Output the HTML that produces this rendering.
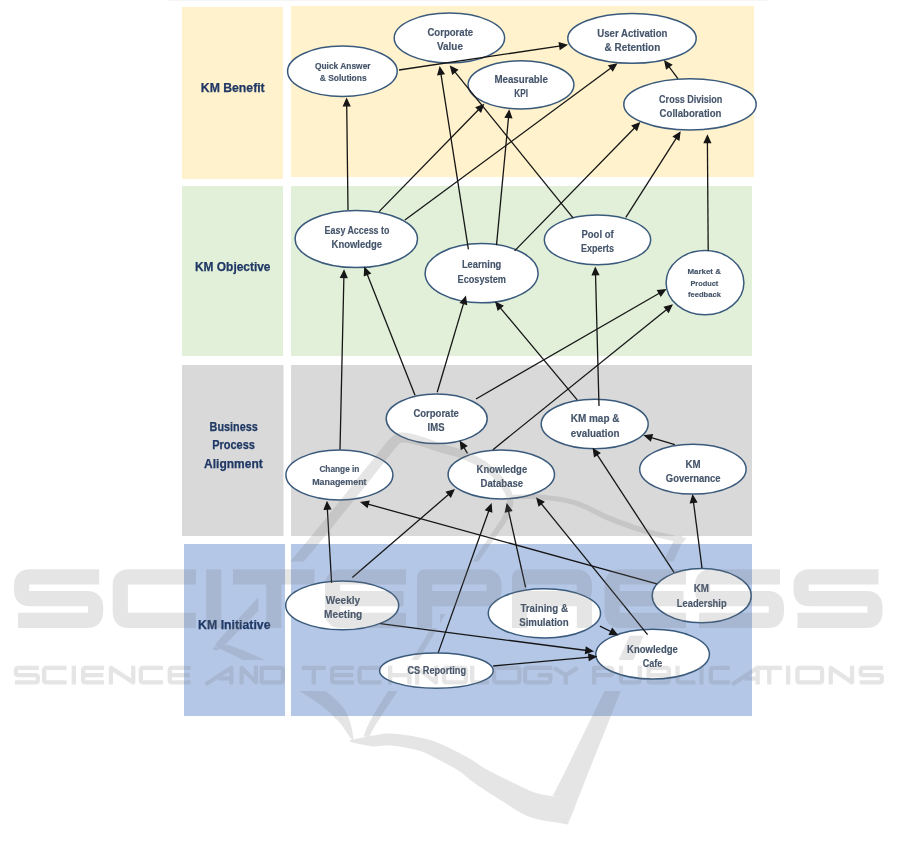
<!DOCTYPE html><html><head><meta charset="utf-8"><style>html,body{margin:0;padding:0;background:#fff;}svg{display:block;}text{font-family:"Liberation Sans",sans-serif;}svg{will-change:transform;}</style></head><body>
<svg width="901" height="859" viewBox="0 0 901 859">
<rect x="167" y="0" width="602" height="1" fill="#f5f5f5"/>
<rect x="182" y="7" width="101.0" height="172.0" fill="#FFF2CC"/>
<rect x="291" y="6" width="463.0" height="171.0" fill="#FFF2CC"/>
<rect x="182" y="186" width="101.0" height="170.0" fill="#E2F0D9"/>
<rect x="291" y="186" width="461.0" height="170.0" fill="#E2F0D9"/>
<rect x="182" y="365" width="101.5" height="171.0" fill="#D9D9D9"/>
<rect x="291" y="365" width="461.0" height="171.0" fill="#D9D9D9"/>
<rect x="184" y="544" width="101.0" height="172.0" fill="#B4C7E7"/>
<rect x="291" y="544" width="461.0" height="172.0" fill="#B4C7E7"/>
<text x="200.8" y="92" font-size="12.5" font-weight="bold" fill="#1F3864" stroke="#1F3864" stroke-width="0.25" textLength="63.9" lengthAdjust="spacingAndGlyphs">KM Benefit</text>
<text x="195" y="270.9" font-size="12.5" font-weight="bold" fill="#1F3864" stroke="#1F3864" stroke-width="0.25" textLength="75.5" lengthAdjust="spacingAndGlyphs">KM Objective</text>
<text x="209.6" y="431.1" font-size="12.5" font-weight="bold" fill="#1F3864" stroke="#1F3864" stroke-width="0.25" textLength="48.1" lengthAdjust="spacingAndGlyphs">Business</text>
<text x="212.2" y="449.4" font-size="12.5" font-weight="bold" fill="#1F3864" stroke="#1F3864" stroke-width="0.25" textLength="42.7" lengthAdjust="spacingAndGlyphs">Process</text>
<text x="204.1" y="467.7" font-size="12.5" font-weight="bold" fill="#1F3864" stroke="#1F3864" stroke-width="0.25" textLength="58.6" lengthAdjust="spacingAndGlyphs">Alignment</text>
<text x="198.1" y="629.2" font-size="12.5" font-weight="bold" fill="#1F3864" stroke="#1F3864" stroke-width="0.25" textLength="72.4" lengthAdjust="spacingAndGlyphs">KM Initiative</text>
<ellipse cx="342.4" cy="71.3" rx="54.8" ry="25.2" fill="#fff" stroke="#3A5A7C" stroke-width="1.5"/>
<ellipse cx="449.4" cy="38" rx="55.2" ry="24.9" fill="#fff" stroke="#3A5A7C" stroke-width="1.5"/>
<ellipse cx="632" cy="38.4" rx="64.2" ry="24.9" fill="#fff" stroke="#3A5A7C" stroke-width="1.5"/>
<ellipse cx="521" cy="84.8" rx="52.9" ry="24.1" fill="#fff" stroke="#3A5A7C" stroke-width="1.5"/>
<ellipse cx="690" cy="104.4" rx="66.2" ry="25.6" fill="#fff" stroke="#3A5A7C" stroke-width="1.5"/>
<ellipse cx="356.3" cy="239" rx="61.2" ry="28.6" fill="#fff" stroke="#3A5A7C" stroke-width="1.5"/>
<ellipse cx="481.6" cy="273.2" rx="56.5" ry="29.6" fill="#fff" stroke="#3A5A7C" stroke-width="1.5"/>
<ellipse cx="597.5" cy="239.9" rx="53.2" ry="24.8" fill="#fff" stroke="#3A5A7C" stroke-width="1.5"/>
<ellipse cx="705" cy="282.7" rx="38.9" ry="32.1" fill="#fff" stroke="#3A5A7C" stroke-width="1.5"/>
<ellipse cx="436.7" cy="418.8" rx="50.5" ry="24.8" fill="#fff" stroke="#3A5A7C" stroke-width="1.5"/>
<ellipse cx="594.7" cy="424" rx="53.5" ry="24.8" fill="#fff" stroke="#3A5A7C" stroke-width="1.5"/>
<ellipse cx="339.4" cy="475" rx="53.5" ry="24.9" fill="#fff" stroke="#3A5A7C" stroke-width="1.5"/>
<ellipse cx="501.3" cy="474.5" rx="53.2" ry="24.4" fill="#fff" stroke="#3A5A7C" stroke-width="1.5"/>
<ellipse cx="692.9" cy="469.2" rx="53.2" ry="24.9" fill="#fff" stroke="#3A5A7C" stroke-width="1.5"/>
<ellipse cx="342.2" cy="605.4" rx="56.5" ry="24.4" fill="#fff" stroke="#3A5A7C" stroke-width="1.5"/>
<ellipse cx="544.4" cy="613.3" rx="56.1" ry="24.6" fill="#fff" stroke="#3A5A7C" stroke-width="1.5"/>
<ellipse cx="701.7" cy="595.7" rx="49.5" ry="27.1" fill="#fff" stroke="#3A5A7C" stroke-width="1.5"/>
<ellipse cx="652.6" cy="654.2" rx="56.8" ry="24.9" fill="#fff" stroke="#3A5A7C" stroke-width="1.5"/>
<ellipse cx="436.4" cy="670.7" rx="56.8" ry="17.6" fill="#fff" stroke="#3A5A7C" stroke-width="1.5"/>
<text x="314.9" y="68.6" font-size="8.5" font-weight="bold" fill="#44546A" stroke="#44546A" stroke-width="0.15" textLength="55.7" lengthAdjust="spacingAndGlyphs">Quick Answer</text>
<text x="319.7" y="81.3" font-size="8.5" font-weight="bold" fill="#44546A" stroke="#44546A" stroke-width="0.15" textLength="46.9" lengthAdjust="spacingAndGlyphs">&amp; Solutions</text>
<text x="427.4" y="36.3" font-size="10" font-weight="bold" fill="#44546A" stroke="#44546A" stroke-width="0.15" textLength="45.8" lengthAdjust="spacingAndGlyphs">Corporate</text>
<text x="437" y="50.3" font-size="10" font-weight="bold" fill="#44546A" stroke="#44546A" stroke-width="0.15" textLength="25.9" lengthAdjust="spacingAndGlyphs">Value</text>
<text x="597.3" y="36.9" font-size="10" font-weight="bold" fill="#44546A" stroke="#44546A" stroke-width="0.15" textLength="70.2" lengthAdjust="spacingAndGlyphs">User Activation</text>
<text x="604.6" y="51.3" font-size="10" font-weight="bold" fill="#44546A" stroke="#44546A" stroke-width="0.15" textLength="55.6" lengthAdjust="spacingAndGlyphs">&amp; Retention</text>
<text x="494.4" y="82.7" font-size="10" font-weight="bold" fill="#44546A" stroke="#44546A" stroke-width="0.15" textLength="53.5" lengthAdjust="spacingAndGlyphs">Measurable</text>
<text x="514.3" y="97.4" font-size="10" font-weight="bold" fill="#44546A" stroke="#44546A" stroke-width="0.15" textLength="13.7" lengthAdjust="spacingAndGlyphs">KPI</text>
<text x="659.1" y="102.8" font-size="10" font-weight="bold" fill="#44546A" stroke="#44546A" stroke-width="0.15" textLength="63.3" lengthAdjust="spacingAndGlyphs">Cross Division</text>
<text x="659.6" y="117.4" font-size="10" font-weight="bold" fill="#44546A" stroke="#44546A" stroke-width="0.15" textLength="61.9" lengthAdjust="spacingAndGlyphs">Collaboration</text>
<text x="324.6" y="234.2" font-size="10" font-weight="bold" fill="#44546A" stroke="#44546A" stroke-width="0.15" textLength="64.8" lengthAdjust="spacingAndGlyphs">Easy Access to</text>
<text x="331.6" y="248.2" font-size="10" font-weight="bold" fill="#44546A" stroke="#44546A" stroke-width="0.15" textLength="50.5" lengthAdjust="spacingAndGlyphs">Knowledge</text>
<text x="461.9" y="267.9" font-size="10" font-weight="bold" fill="#44546A" stroke="#44546A" stroke-width="0.15" textLength="39.4" lengthAdjust="spacingAndGlyphs">Learning</text>
<text x="457.6" y="282.6" font-size="10" font-weight="bold" fill="#44546A" stroke="#44546A" stroke-width="0.15" textLength="48.3" lengthAdjust="spacingAndGlyphs">Ecosystem</text>
<text x="581.5" y="237.9" font-size="10" font-weight="bold" fill="#44546A" stroke="#44546A" stroke-width="0.15" textLength="32.1" lengthAdjust="spacingAndGlyphs">Pool of</text>
<text x="580.9" y="252.3" font-size="10" font-weight="bold" fill="#44546A" stroke="#44546A" stroke-width="0.15" textLength="33.1" lengthAdjust="spacingAndGlyphs">Experts</text>
<text x="687.4" y="274.3" font-size="8" font-weight="bold" fill="#44546A" stroke="#44546A" stroke-width="0.15" textLength="33.5" lengthAdjust="spacingAndGlyphs">Market &amp;</text>
<text x="690.4" y="285.5" font-size="8" font-weight="bold" fill="#44546A" stroke="#44546A" stroke-width="0.15" textLength="27.8" lengthAdjust="spacingAndGlyphs">Product</text>
<text x="688" y="296.9" font-size="8" font-weight="bold" fill="#44546A" stroke="#44546A" stroke-width="0.15" textLength="32.9" lengthAdjust="spacingAndGlyphs">feedback</text>
<text x="413.4" y="416.6" font-size="10" font-weight="bold" fill="#44546A" stroke="#44546A" stroke-width="0.15" textLength="45.5" lengthAdjust="spacingAndGlyphs">Corporate</text>
<text x="427.6" y="430.6" font-size="10" font-weight="bold" fill="#44546A" stroke="#44546A" stroke-width="0.15" textLength="16.9" lengthAdjust="spacingAndGlyphs">IMS</text>
<text x="570.7" y="422.4" font-size="10" font-weight="bold" fill="#44546A" stroke="#44546A" stroke-width="0.15" textLength="48.8" lengthAdjust="spacingAndGlyphs">KM map &amp;</text>
<text x="570.7" y="436.8" font-size="10" font-weight="bold" fill="#44546A" stroke="#44546A" stroke-width="0.15" textLength="48.8" lengthAdjust="spacingAndGlyphs">evaluation</text>
<text x="319.4" y="472" font-size="8.5" font-weight="bold" fill="#44546A" stroke="#44546A" stroke-width="0.15" textLength="40.0" lengthAdjust="spacingAndGlyphs">Change in</text>
<text x="312.2" y="485" font-size="8.5" font-weight="bold" fill="#44546A" stroke="#44546A" stroke-width="0.15" textLength="54.4" lengthAdjust="spacingAndGlyphs">Management</text>
<text x="476.6" y="473" font-size="10" font-weight="bold" fill="#44546A" stroke="#44546A" stroke-width="0.15" textLength="50.6" lengthAdjust="spacingAndGlyphs">Knowledge</text>
<text x="480.6" y="487.4" font-size="10" font-weight="bold" fill="#44546A" stroke="#44546A" stroke-width="0.15" textLength="42.6" lengthAdjust="spacingAndGlyphs">Database</text>
<text x="685.6" y="467.7" font-size="10" font-weight="bold" fill="#44546A" stroke="#44546A" stroke-width="0.15" textLength="15.1" lengthAdjust="spacingAndGlyphs">KM</text>
<text x="665.8" y="482.1" font-size="10" font-weight="bold" fill="#44546A" stroke="#44546A" stroke-width="0.15" textLength="54.8" lengthAdjust="spacingAndGlyphs">Governance</text>
<text x="325.8" y="603.9" font-size="10" font-weight="bold" fill="#44546A" stroke="#44546A" stroke-width="0.15" textLength="34.3" lengthAdjust="spacingAndGlyphs">Weekly</text>
<text x="324.1" y="617.6" font-size="10" font-weight="bold" fill="#44546A" stroke="#44546A" stroke-width="0.15" textLength="38.2" lengthAdjust="spacingAndGlyphs">Meeting</text>
<text x="520.4" y="611.7" font-size="10" font-weight="bold" fill="#44546A" stroke="#44546A" stroke-width="0.15" textLength="47.6" lengthAdjust="spacingAndGlyphs">Training &amp;</text>
<text x="519.2" y="625.7" font-size="10" font-weight="bold" fill="#44546A" stroke="#44546A" stroke-width="0.15" textLength="49.5" lengthAdjust="spacingAndGlyphs">Simulation</text>
<text x="693.7" y="592" font-size="10" font-weight="bold" fill="#44546A" stroke="#44546A" stroke-width="0.15" textLength="15.3" lengthAdjust="spacingAndGlyphs">KM</text>
<text x="676.8" y="606.5" font-size="10" font-weight="bold" fill="#44546A" stroke="#44546A" stroke-width="0.15" textLength="49.8" lengthAdjust="spacingAndGlyphs">Leadership</text>
<text x="627" y="652.6" font-size="10" font-weight="bold" fill="#44546A" stroke="#44546A" stroke-width="0.15" textLength="50.9" lengthAdjust="spacingAndGlyphs">Knowledge</text>
<text x="642.8" y="666.6" font-size="10" font-weight="bold" fill="#44546A" stroke="#44546A" stroke-width="0.15" textLength="19.6" lengthAdjust="spacingAndGlyphs">Cafe</text>
<text x="407.5" y="673.9" font-size="10" font-weight="bold" fill="#44546A" stroke="#44546A" stroke-width="0.15" textLength="58.5" lengthAdjust="spacingAndGlyphs">CS Reporting</text>
<g stroke="#161616" stroke-width="1.3" fill="#161616">
<line x1="399.0" y1="70.0" x2="560.8" y2="45.9"/><polygon points="566.5,45.0 560.2,49.1 559.3,42.9"/>
<line x1="348.0" y1="210.0" x2="346.7" y2="104.8"/><polygon points="346.6,99.0 349.8,105.8 343.6,105.8"/>
<line x1="379.1" y1="211.6" x2="479.2" y2="109.0"/><polygon points="483.3,104.9 480.8,111.9 476.3,107.6"/>
<line x1="404.9" y1="220.0" x2="611.6" y2="67.5"/><polygon points="616.3,64.1 612.7,70.6 609.0,65.6"/>
<line x1="468.4" y1="249.4" x2="440.8" y2="73.2"/><polygon points="439.9,67.5 444.0,73.7 437.9,74.7"/>
<line x1="496.5" y1="245.1" x2="508.6" y2="116.5"/><polygon points="509.1,110.7 511.6,117.8 505.4,117.2"/>
<line x1="514.6" y1="250.9" x2="635.2" y2="127.3"/><polygon points="639.3,123.1 636.8,130.1 632.3,125.8"/>
<line x1="573.2" y1="218.2" x2="454.3" y2="71.1"/><polygon points="450.7,66.6 457.4,69.9 452.6,73.8"/>
<line x1="625.8" y1="217.4" x2="676.8" y2="137.4"/><polygon points="679.9,132.5 678.9,139.9 673.6,136.6"/>
<line x1="677.9" y1="78.6" x2="668.4" y2="65.9"/><polygon points="664.9,61.3 671.5,64.9 666.5,68.6"/>
<line x1="708.2" y1="250.7" x2="707.4" y2="141.6"/><polygon points="707.4,135.8 710.5,142.6 704.3,142.6"/>
<line x1="340.0" y1="449.4" x2="343.9" y2="276.5"/><polygon points="344.0,270.7 346.9,277.6 340.7,277.4"/>
<line x1="415.0" y1="395.3" x2="366.9" y2="273.4"/><polygon points="364.8,268.0 370.2,273.2 364.4,275.5"/>
<line x1="437.2" y1="392.3" x2="463.8" y2="302.6"/><polygon points="465.5,297.0 466.5,304.4 460.6,302.6"/>
<line x1="476.0" y1="399.0" x2="660.1" y2="292.7"/><polygon points="665.1,289.8 660.8,295.9 657.7,290.5"/>
<line x1="467.5" y1="453.3" x2="463.4" y2="446.6"/><polygon points="460.4,441.7 466.6,445.9 461.3,449.1"/>
<line x1="492.9" y1="449.7" x2="667.3" y2="308.9"/><polygon points="671.8,305.3 668.5,312.0 664.6,307.2"/>
<line x1="577.2" y1="399.8" x2="499.7" y2="307.1"/><polygon points="496.0,302.6 502.7,305.8 498.0,309.8"/>
<line x1="599.0" y1="406.0" x2="595.5" y2="273.8"/><polygon points="595.3,268.0 598.6,274.7 592.4,274.9"/>
<line x1="674.8" y1="444.7" x2="650.5" y2="437.4"/><polygon points="644.9,435.7 652.3,434.7 650.5,440.6"/>
<line x1="331.6" y1="582.9" x2="327.3" y2="508.2"/><polygon points="327.0,502.4 330.5,509.0 324.3,509.4"/>
<line x1="352.3" y1="577.5" x2="449.4" y2="493.8"/><polygon points="453.8,490.0 450.7,496.8 446.6,492.1"/>
<line x1="380.3" y1="623.7" x2="586.8" y2="650.5"/><polygon points="592.6,651.2 585.5,653.4 586.3,647.3"/>
<line x1="656.9" y1="583.9" x2="367.1" y2="503.9"/><polygon points="361.5,502.4 368.9,501.2 367.2,507.2"/>
<line x1="674.0" y1="572.4" x2="596.6" y2="453.9"/><polygon points="593.4,449.0 599.7,453.0 594.5,456.4"/>
<line x1="702.0" y1="568.0" x2="693.4" y2="501.4"/><polygon points="692.7,495.6 696.6,501.9 690.5,502.7"/>
<line x1="438.3" y1="652.4" x2="489.1" y2="510.0"/><polygon points="491.1,504.5 491.7,511.9 485.9,509.9"/>
<line x1="493.2" y1="666.0" x2="590.0" y2="657.1"/><polygon points="595.8,656.6 589.3,660.3 588.7,654.1"/>
<line x1="525.6" y1="587.4" x2="508.3" y2="510.2"/><polygon points="507.0,504.5 511.5,510.5 505.5,511.8"/>
<line x1="599.9" y1="626.2" x2="611.8" y2="632.0"/><polygon points="617.0,634.6 609.5,634.4 612.3,628.8"/>
<line x1="647.6" y1="634.6" x2="540.7" y2="503.0"/><polygon points="537.0,498.5 543.7,501.8 538.9,505.7"/>
</g>
<defs><mask id="wmk" maskUnits="userSpaceOnUse" x="0" y="0" width="901" height="859">
<rect x="0" y="0" width="901" height="859" fill="#fff"/>
<g fill="none" stroke="#000" stroke-linejoin="round">
<path d="M99.19,576.90 L29.96,576.90 Q21.60,576.90 21.60,585.26 L21.60,590.29 Q21.60,598.65 29.96,598.65 L87.24,598.65 Q95.60,598.65 95.60,607.01 L95.60,612.04 Q95.60,620.40 87.24,620.40 L18.01,620.40" stroke-width="30.799999999999997"/>
<path d="M195.90,576.90 L128.66,576.90 Q120.30,576.90 120.30,585.26 L120.30,612.04 Q120.30,620.40 128.66,620.40 L195.90,620.40" stroke-width="30.799999999999997"/>
<path d="M213.75,569.30 L213.75,628.00" stroke-width="30.799999999999997"/>
<path d="M233.00,576.90 L314.50,576.90" stroke-width="30.799999999999997"/>
<path d="M273.75,576.90 L273.75,628.00" stroke-width="30.799999999999997"/>
<path d="M406.00,576.90 L340.96,576.90 Q332.60,576.90 332.60,585.26 L332.60,612.04 Q332.60,620.40 340.96,620.40 L406.00,620.40" stroke-width="30.799999999999997"/>
<path d="M332.60,598.65 L403.57,598.65" stroke-width="30.799999999999997"/>
<path d="M424.60,628.00 L424.60,576.90 L485.64,576.90 Q494.00,576.90 494.00,585.26 L494.00,590.29 Q494.00,598.65 485.64,598.65 L424.60,598.65" stroke-width="30.799999999999997"/>
<path d="M519.60,628.00 L519.60,576.90 L576.04,576.90 Q584.40,576.90 584.40,585.26 L584.40,590.29 Q584.40,598.65 576.04,598.65 L519.60,598.65" stroke-width="30.799999999999997"/>
<path d="M584.40,598.65 L584.40,628.00" stroke-width="30.799999999999997"/>
<path d="M686.00,576.90 L620.46,576.90 Q612.10,576.90 612.10,585.26 L612.10,612.04 Q612.10,620.40 620.46,620.40 L686.00,620.40" stroke-width="30.799999999999997"/>
<path d="M612.10,598.65 L683.55,598.65" stroke-width="30.799999999999997"/>
<path d="M780.00,576.90 L710.96,576.90 Q702.60,576.90 702.60,585.26 L702.60,590.29 Q702.60,598.65 710.96,598.65 L768.04,598.65 Q776.40,598.65 776.40,607.01 L776.40,612.04 Q776.40,620.40 768.04,620.40 L699.00,620.40" stroke-width="30.799999999999997"/>
<path d="M878.59,576.90 L809.46,576.90 Q801.10,576.90 801.10,585.26 L801.10,590.29 Q801.10,598.65 809.46,598.65 L866.64,598.65 Q875.00,598.65 875.00,607.01 L875.00,612.04 Q875.00,620.40 866.64,620.40 L797.51,620.40" stroke-width="30.799999999999997"/>
</g>
<rect x="0" y="660" width="901" height="31" fill="#000"/>
</mask></defs>
<g opacity="0.19">
<g mask="url(#wmk)" fill="#787878">
<path d="M217.2,646.5 L215.3,647.6 L216.1,645.6 L215.6,645.9 L215.0,646.2 L214.3,646.7 L212.9,649.3 L216.5,650.8 L218.3,649.8 L219.6,649.0 L221.4,647.7 L223.8,645.6 L226.9,642.8 L230.7,639.0 L235.1,634.5 L240.2,629.4 L245.8,623.7 L251.9,617.5 L258.4,610.9 L265.1,603.9 L272.1,596.5 L279.3,588.9 L286.6,581.0 L293.8,573.0 L301.0,564.9 L308.5,556.1 L316.7,546.2 L325.5,535.4 L334.6,524.2 L343.9,512.6 L353.2,501.1 L362.1,489.9 L370.7,479.2 L378.5,469.3 L385.5,460.5 L391.4,453.1 L395.8,447.7 L396.0,447.5 L396.7,446.7 L397.3,446.1 L397.8,445.4 L398.3,444.8 L398.9,444.2 L399.4,443.7 L399.9,443.3 L400.4,443.0 L400.8,442.7 L401.2,442.6 L401.6,442.5 L402.3,442.4 L403.3,442.4 L404.5,442.5 L405.8,442.7 L407.2,442.9 L408.7,443.2 L410.3,443.5 L412.0,443.9 L413.7,444.3 L415.4,444.7 L417.1,445.2 L418.8,445.6 L420.4,446.0 L422.0,446.5 L423.6,447.0 L425.3,447.5 L427.0,448.1 L428.7,448.6 L430.5,449.2 L432.2,449.9 L434.1,450.5 L435.9,451.1 L437.8,451.7 L439.6,452.3 L441.6,452.9 L443.5,453.4 L445.5,453.9 L447.4,454.4 L449.4,455.0 L451.3,455.5 L453.3,456.0 L455.2,456.5 L457.0,457.1 L458.9,457.7 L460.7,458.3 L462.4,458.9 L464.2,459.7 L466.0,460.4 L467.8,461.2 L469.6,462.0 L471.4,462.9 L473.1,463.7 L474.8,464.6 L476.5,465.5 L478.1,466.4 L479.7,467.4 L481.3,468.3 L482.7,469.3 L484.1,470.2 L485.5,471.2 L486.9,472.2 L488.2,473.2 L489.4,474.3 L490.6,475.3 L491.8,476.4 L493.0,477.5 L494.1,478.6 L495.2,479.8 L496.2,480.9 L497.3,482.2 L498.3,483.5 L499.3,484.8 L500.4,486.2 L501.4,487.6 L502.4,489.1 L503.3,490.5 L504.1,491.9 L504.9,493.3 L505.5,494.7 L506.1,496.0 L506.5,497.3 L506.8,498.5 L506.9,499.7 L507.0,501.0 L506.9,502.3 L506.8,503.6 L506.5,505.0 L506.2,506.4 L505.8,507.8 L505.3,509.2 L504.8,510.6 L504.3,512.1 L503.8,513.5 L503.2,514.8 L502.7,516.1 L502.2,517.2 L501.7,518.2 L501.1,519.2 L500.5,520.2 L499.9,521.2 L499.1,522.3 L498.3,523.4 L497.4,524.7 L496.5,526.1 L495.4,527.7 L494.2,529.5 L493.0,531.3 L491.7,533.1 L490.4,535.1 L489.0,537.0 L487.6,539.1 L486.0,541.4 L484.4,543.7 L482.7,546.3 L480.8,549.0 L478.8,552.0 L476.7,555.2 L474.5,558.6 L472.0,562.5 L469.4,566.7 L466.5,571.3 L463.4,576.1 L460.3,581.1 L457.1,586.3 L453.8,591.5 L450.6,596.7 L447.5,601.8 L444.4,606.7 L441.6,611.3 L438.9,615.7 L436.3,619.8 L433.9,623.8 L431.5,627.7 L429.2,631.5 L427.0,635.1 L424.8,638.7 L422.7,642.2 L420.6,645.6 L418.5,648.9 L416.5,652.2 L414.5,655.3 L412.5,658.4 L410.5,661.3 L408.5,664.1 L406.5,666.7 L404.6,669.3 L402.6,671.8 L400.7,674.2 L398.9,676.6 L397.0,679.0 L395.2,681.4 L393.3,683.8 L391.5,686.3 L389.7,688.8 L388.0,691.4 L386.3,694.1 L384.5,696.8 L382.8,699.5 L381.1,702.2 L379.5,704.9 L377.8,707.6 L376.3,710.1 L374.8,712.6 L373.4,715.0 L372.1,717.2 L371.0,719.2 L369.9,721.2 L369.0,723.1 L368.2,724.9 L367.4,726.5 L366.7,728.1 L366.1,729.6 L365.6,731.0 L365.1,732.2 L364.7,733.3 L364.3,734.3 L364.0,735.2 L363.7,735.9 L368.3,738.1 L368.7,737.4 L369.2,736.5 L369.7,735.6 L370.2,734.5 L370.9,733.4 L371.5,732.2 L372.3,730.8 L373.1,729.4 L373.9,727.9 L374.9,726.2 L375.9,724.6 L377.0,722.8 L378.2,720.8 L379.6,718.7 L381.0,716.4 L382.5,714.0 L384.1,711.5 L385.8,708.9 L387.5,706.3 L389.3,703.7 L391.0,701.0 L392.8,698.4 L394.6,695.8 L396.3,693.2 L397.9,690.7 L399.6,688.3 L401.2,685.8 L402.9,683.4 L404.6,680.9 L406.4,678.4 L408.2,675.8 L410.0,673.2 L411.8,670.5 L413.7,667.7 L415.6,664.7 L417.5,661.6 L419.5,658.5 L421.5,655.2 L423.5,651.9 L425.4,648.5 L427.5,645.1 L429.5,641.5 L431.6,637.9 L433.8,634.2 L436.0,630.4 L438.3,626.4 L440.7,622.4 L443.1,618.3 L445.8,614.0 L448.7,609.3 L451.7,604.4 L454.9,599.3 L458.1,594.1 L461.3,588.9 L464.5,583.8 L467.7,578.8 L470.7,573.9 L473.6,569.4 L476.3,565.2 L478.7,561.4 L480.9,557.9 L483.1,554.8 L485.0,551.9 L486.9,549.2 L488.7,546.7 L490.3,544.4 L491.9,542.2 L493.4,540.1 L494.8,538.2 L496.2,536.2 L497.5,534.4 L498.8,532.5 L500.0,530.8 L501.0,529.3 L502.0,528.0 L502.9,526.7 L503.8,525.6 L504.6,524.4 L505.4,523.3 L506.1,522.2 L506.8,521.1 L507.5,519.9 L508.1,518.5 L508.8,517.2 L509.4,515.7 L510.0,514.3 L510.6,512.8 L511.2,511.2 L511.7,509.6 L512.2,508.0 L512.7,506.3 L513.0,504.6 L513.3,502.9 L513.4,501.1 L513.4,499.3 L513.2,497.5 L512.8,495.7 L512.3,493.9 L511.7,492.1 L510.9,490.4 L510.0,488.7 L509.1,487.0 L508.1,485.4 L507.0,483.8 L506.0,482.2 L504.9,480.7 L503.8,479.2 L502.7,477.8 L501.7,476.4 L500.6,475.1 L499.4,473.7 L498.2,472.4 L497.0,471.1 L495.7,469.8 L494.4,468.6 L493.1,467.4 L491.7,466.2 L490.3,465.0 L488.8,463.8 L487.3,462.7 L485.7,461.6 L484.0,460.5 L482.3,459.4 L480.5,458.4 L478.7,457.4 L476.9,456.4 L475.0,455.4 L473.2,454.5 L471.3,453.6 L469.4,452.7 L467.5,451.9 L465.6,451.1 L463.6,450.3 L461.7,449.5 L459.7,448.9 L457.7,448.2 L455.7,447.6 L453.7,447.0 L451.7,446.5 L449.8,445.9 L447.8,445.4 L446.0,444.8 L444.1,444.3 L442.4,443.7 L440.6,443.1 L438.8,442.5 L437.1,441.9 L435.3,441.2 L433.6,440.6 L431.8,439.9 L430.0,439.3 L428.3,438.7 L426.5,438.0 L424.7,437.5 L423.0,436.9 L421.2,436.4 L419.5,435.9 L417.8,435.5 L416.1,435.0 L414.3,434.5 L412.5,434.1 L410.8,433.6 L409.0,433.3 L407.3,432.9 L405.5,432.7 L403.8,432.5 L402.1,432.4 L400.4,432.5 L398.6,432.8 L396.8,433.4 L395.3,434.2 L394.0,435.0 L392.8,435.9 L391.8,436.8 L390.9,437.7 L390.1,438.5 L389.5,439.1 L389.0,439.6 L388.8,439.8 L388.2,440.3 L383.2,446.5 L377.3,454.0 L370.3,462.8 L362.4,472.6 L353.9,483.3 L345.0,494.6 L335.7,506.1 L326.5,517.6 L317.4,528.8 L308.6,539.5 L300.4,549.3 L293.0,558.1 L286.1,566.2 L279.0,574.3 L272.0,582.2 L265.0,590.0 L258.2,597.4 L251.6,604.5 L245.4,611.3 L239.4,617.6 L234.0,623.4 L229.1,628.6 L224.7,633.3 L221.1,637.2 L218.4,640.5 L216.5,642.9 L215.3,644.5 L214.7,645.4 L215.6,645.1 L219.0,646.6 L217.8,648.5 L217.8,648.0 L217.9,647.4 L217.9,646.7 L218.9,644.2 L216.8,645.5 Z"/>
<path d="M215.9,645.5 L216.3,645.9 L216.7,646.2 L217.3,646.6 L217.9,647.0 L218.6,647.5 L219.3,647.9 L220.1,648.4 L220.9,648.9 L221.8,649.4 L222.7,650.0 L223.7,650.6 L224.8,651.3 L226.0,651.8 L227.2,652.4 L228.6,653.0 L230.0,653.6 L231.4,654.3 L232.9,655.0 L234.5,655.8 L236.1,656.5 L237.8,657.3 L239.5,658.2 L241.2,659.1 L243.1,660.1 L244.9,661.1 L246.7,662.1 L248.6,663.3 L250.6,664.4 L252.6,665.6 L254.7,666.8 L256.8,668.1 L259.1,669.5 L261.5,670.8 L263.9,672.3 L266.5,673.8 L269.3,675.3 L272.2,677.0 L275.5,678.7 L278.8,680.5 L282.3,682.3 L285.9,684.1 L289.5,686.0 L293.1,687.9 L296.7,689.8 L300.1,691.7 L303.3,693.6 L306.2,695.5 L309.0,697.3 L311.6,699.0 L314.3,700.7 L316.8,702.4 L319.2,704.1 L321.5,705.8 L323.7,707.5 L325.8,709.3 L327.9,711.0 L329.8,712.8 L331.6,714.5 L333.3,716.3 L334.9,718.1 L336.7,719.6 L338.4,721.3 L340.2,723.3 L341.8,725.4 L343.4,727.6 L345.0,729.8 L346.4,732.0 L347.8,734.1 L349.1,736.0 L350.4,737.7 L351.5,739.1 L352.5,740.2 L353.5,739.8 L353.3,738.3 L353.1,736.6 L352.8,734.5 L352.5,732.2 L352.0,729.7 L351.4,727.0 L350.7,724.3 L349.9,721.4 L348.9,718.5 L347.8,715.6 L346.5,712.7 L345.1,709.9 L343.2,707.6 L341.3,705.4 L339.3,703.2 L337.3,701.1 L335.1,698.9 L332.8,696.8 L330.4,694.8 L327.9,692.7 L325.3,690.7 L322.7,688.7 L319.9,686.7 L317.0,684.7 L313.8,682.8 L310.4,681.0 L306.8,679.2 L303.0,677.4 L299.3,675.6 L295.5,673.9 L291.7,672.2 L287.9,670.5 L284.3,669.0 L280.9,667.4 L277.7,666.0 L274.7,664.7 L271.9,663.4 L269.3,662.1 L266.7,660.9 L264.2,659.7 L261.9,658.6 L259.6,657.5 L257.4,656.5 L255.2,655.5 L253.1,654.6 L251.0,653.7 L249.0,652.8 L246.9,651.9 L245.0,651.1 L243.1,650.3 L241.2,649.6 L239.4,648.9 L237.6,648.2 L236.0,647.6 L234.3,647.0 L232.8,646.5 L231.3,646.0 L229.9,645.6 L228.5,645.1 L227.2,644.7 L225.9,644.5 L224.7,644.3 L223.5,644.2 L222.3,644.1 L221.3,644.1 L220.3,644.1 L219.4,644.1 L218.6,644.1 L217.9,644.2 L217.2,644.3 L216.7,644.4 L216.1,644.5 Z"/>
<path d="M350.0,741.5 L351.1,741.9 L352.4,742.4 L354.0,742.8 L355.8,743.2 L357.7,743.7 L359.8,744.1 L361.9,744.5 L364.1,744.9 L366.2,745.4 L368.3,745.8 L370.3,746.1 L372.2,746.5 L374.1,746.4 L375.8,746.3 L377.5,746.2 L379.0,746.0 L380.5,745.8 L381.9,745.7 L383.2,745.5 L384.6,745.4 L386.0,745.3 L387.4,745.3 L388.9,745.4 L390.6,745.5 L392.6,745.7 L394.7,745.9 L397.0,746.3 L399.5,746.6 L402.0,747.0 L404.5,747.5 L407.1,748.0 L409.6,748.5 L412.0,749.0 L414.4,749.5 L416.5,750.0 L418.5,750.5 L420.2,751.0 L421.7,751.5 L423.1,752.0 L424.3,752.5 L425.5,753.1 L426.7,753.6 L427.8,754.1 L429.0,754.8 L430.3,755.4 L431.7,756.1 L433.2,756.9 L434.8,757.8 L436.6,758.7 L438.6,759.7 L440.6,760.7 L442.7,761.8 L444.8,762.9 L447.0,764.1 L449.2,765.2 L451.3,766.4 L453.4,767.6 L455.3,768.7 L457.2,769.8 L458.9,770.9 L460.3,771.9 L461.6,772.8 L462.8,773.7 L464.0,774.7 L465.1,775.6 L466.2,776.6 L467.5,777.6 L468.7,778.7 L470.1,779.9 L471.7,781.1 L473.4,782.3 L475.2,783.6 L477.1,784.9 L479.0,786.3 L481.0,787.6 L483.2,789.0 L485.3,790.4 L487.5,791.8 L489.8,793.3 L492.0,794.7 L494.3,796.1 L496.5,797.5 L498.8,798.9 L500.9,800.2 L503.0,801.5 L505.1,802.9 L507.2,804.3 L509.4,805.8 L511.6,807.2 L513.9,808.7 L516.2,810.2 L518.6,811.6 L521.1,813.0 L523.6,814.3 L526.2,815.6 L528.9,816.8 L531.8,817.8 L534.8,818.6 L537.7,819.3 L540.7,820.0 L543.5,820.5 L546.3,821.0 L548.9,821.4 L551.3,821.8 L553.5,822.1 L555.3,822.4 L556.8,822.6 L567.8,824.4 L574.0,809.4 L576.7,802.1 L580.0,793.7 L583.7,784.3 L587.7,774.0 L592.1,763.1 L596.6,751.7 L601.3,740.0 L606.0,728.3 L610.7,716.5 L615.2,705.1 L619.6,694.0 L624.2,682.8 L629.1,670.8 L634.2,658.3 L639.5,645.3 L644.8,632.3 L650.0,619.4 L655.1,606.9 L660.0,595.0 L664.5,583.8 L668.6,573.8 L672.2,565.1 L675.1,557.9 L677.5,552.3 L679.4,548.2 L680.8,545.2 L681.7,543.4 L682.1,542.6 L681.4,543.1 L678.6,543.4 L677.2,541.6 L677.2,541.5 L678.3,543.3 L681.9,543.8 L686.4,538.2 L680.0,536.7 L677.9,536.2 L675.5,535.7 L672.8,535.1 L669.8,534.4 L666.7,533.7 L663.4,533.0 L660.1,532.2 L656.8,531.4 L653.5,530.5 L650.4,529.7 L647.4,528.9 L644.5,528.0 L641.6,527.1 L638.6,526.1 L635.7,525.2 L632.7,524.2 L629.8,523.1 L626.8,522.1 L623.9,521.0 L620.9,519.9 L617.9,518.8 L615.0,517.6 L612.0,516.5 L609.1,515.3 L606.2,514.0 L603.3,512.6 L600.3,511.2 L597.4,509.7 L594.4,508.2 L591.4,506.8 L588.4,505.4 L585.4,504.0 L582.4,502.8 L579.3,501.6 L576.2,500.6 L573.2,499.7 L570.1,498.9 L567.0,498.2 L563.9,497.6 L560.9,497.0 L557.8,496.5 L554.7,496.1 L551.7,495.7 L548.8,495.4 L545.9,495.0 L543.0,494.8 L540.2,494.5 L537.4,494.3 L534.4,494.2 L531.4,494.2 L528.5,494.2 L525.6,494.3 L522.7,494.4 L520.0,494.5 L517.5,494.6 L515.2,494.7 L513.1,494.8 L511.4,494.9 L510.0,495.0 L510.0,499.0 L511.5,499.0 L513.3,499.0 L515.3,499.0 L517.6,498.9 L520.2,498.9 L522.8,498.9 L525.6,498.9 L528.5,498.9 L531.4,499.0 L534.2,499.1 L537.1,499.2 L539.8,499.5 L542.5,499.7 L545.3,500.0 L548.2,500.3 L551.1,500.7 L554.1,501.0 L557.0,501.5 L560.0,502.0 L563.0,502.5 L566.0,503.1 L568.9,503.8 L571.9,504.5 L574.8,505.4 L577.6,506.4 L580.5,507.5 L583.3,508.7 L586.2,510.1 L589.1,511.5 L592.1,512.9 L595.0,514.4 L598.0,515.9 L600.9,517.4 L603.9,518.9 L606.9,520.3 L610.0,521.5 L613.0,522.7 L616.0,523.9 L619.0,525.0 L622.0,526.2 L625.0,527.2 L628.0,528.3 L631.0,529.4 L633.9,530.4 L636.9,531.4 L639.9,532.3 L642.9,533.2 L645.8,534.1 L648.9,535.0 L652.1,535.9 L655.4,536.8 L658.7,537.7 L662.1,538.5 L665.4,539.3 L668.5,540.1 L671.5,540.8 L674.2,541.4 L676.6,542.0 L678.7,542.5 L675.6,541.8 L679.4,537.0 L682.6,537.4 L683.4,538.7 L683.2,537.9 L681.4,535.6 L677.9,536.0 L676.1,537.6 L674.9,539.1 L673.5,541.3 L671.8,544.4 L669.6,548.6 L666.9,554.1 L663.5,561.2 L659.4,569.8 L654.9,579.7 L649.9,590.6 L644.6,602.4 L639.0,614.7 L633.3,627.4 L627.5,640.2 L621.8,652.9 L616.2,665.3 L610.9,677.0 L605.8,688.0 L600.7,698.7 L595.3,709.7 L589.8,721.1 L584.2,732.5 L578.7,743.8 L573.3,754.8 L568.2,765.3 L563.3,775.2 L558.7,784.3 L554.6,792.3 L551.1,799.2 L552.2,795.6 L560.6,797.0 L558.8,796.8 L556.8,796.5 L554.7,796.3 L552.4,796.1 L550.1,795.8 L547.7,795.4 L545.3,795.1 L543.0,794.7 L540.8,794.2 L538.9,793.7 L537.1,793.2 L535.3,792.7 L533.4,792.1 L531.4,791.3 L529.3,790.5 L527.2,789.6 L525.0,788.6 L522.8,787.5 L520.5,786.4 L518.2,785.2 L515.8,784.1 L513.4,782.9 L511.1,781.8 L508.8,780.7 L506.5,779.6 L504.2,778.4 L501.8,777.3 L499.5,776.1 L497.2,774.9 L495.0,773.8 L492.8,772.6 L490.6,771.5 L488.6,770.4 L486.6,769.4 L484.8,768.4 L483.2,767.5 L481.8,766.6 L480.5,765.7 L479.2,764.9 L477.9,764.0 L476.6,763.1 L475.3,762.2 L473.9,761.3 L472.4,760.3 L470.8,759.2 L469.0,758.2 L467.1,757.1 L465.1,756.0 L463.1,754.9 L460.9,753.8 L458.7,752.6 L456.4,751.4 L454.1,750.3 L451.8,749.2 L449.5,748.1 L447.3,747.0 L445.1,746.0 L443.1,745.0 L441.2,744.2 L439.4,743.5 L437.8,742.8 L436.3,742.2 L434.8,741.6 L433.3,741.1 L431.8,740.6 L430.3,740.1 L428.8,739.6 L427.1,739.2 L425.4,738.7 L423.5,738.3 L421.5,737.9 L419.4,737.4 L417.0,736.9 L414.5,736.5 L411.9,736.0 L409.3,735.6 L406.6,735.2 L403.9,734.8 L401.2,734.4 L398.6,734.1 L396.1,733.9 L393.6,733.7 L391.4,733.5 L389.2,733.5 L387.2,733.5 L385.3,733.6 L383.5,733.8 L381.8,734.0 L380.3,734.3 L378.8,734.5 L377.4,734.8 L376.0,735.0 L374.6,735.2 L373.3,735.4 L371.8,735.5 L370.1,736.0 L368.2,736.4 L366.2,736.9 L364.1,737.3 L361.9,737.7 L359.8,738.1 L357.8,738.5 L355.8,738.9 L354.0,739.3 L352.4,739.7 L351.1,740.1 L350.0,740.5 Z"/>
</g>
<g fill="none" stroke="#787878" stroke-linejoin="round">
<path d="M99.19,576.90 L29.96,576.90 Q21.60,576.90 21.60,585.26 L21.60,590.29 Q21.60,598.65 29.96,598.65 L87.24,598.65 Q95.60,598.65 95.60,607.01 L95.60,612.04 Q95.60,620.40 87.24,620.40 L18.01,620.40" stroke-width="15.2"/>
<path d="M195.90,576.90 L128.66,576.90 Q120.30,576.90 120.30,585.26 L120.30,612.04 Q120.30,620.40 128.66,620.40 L195.90,620.40" stroke-width="15.2"/>
<path d="M213.75,569.30 L213.75,628.00" stroke-width="15.2"/>
<path d="M233.00,576.90 L314.50,576.90" stroke-width="15.2"/>
<path d="M273.75,576.90 L273.75,628.00" stroke-width="15.2"/>
<path d="M406.00,576.90 L340.96,576.90 Q332.60,576.90 332.60,585.26 L332.60,612.04 Q332.60,620.40 340.96,620.40 L406.00,620.40" stroke-width="15.2"/>
<path d="M332.60,598.65 L403.57,598.65" stroke-width="15.2"/>
<path d="M424.60,628.00 L424.60,576.90 L485.64,576.90 Q494.00,576.90 494.00,585.26 L494.00,590.29 Q494.00,598.65 485.64,598.65 L424.60,598.65" stroke-width="15.2"/>
<path d="M519.60,628.00 L519.60,576.90 L576.04,576.90 Q584.40,576.90 584.40,585.26 L584.40,590.29 Q584.40,598.65 576.04,598.65 L519.60,598.65" stroke-width="15.2"/>
<path d="M584.40,598.65 L584.40,628.00" stroke-width="15.2"/>
<path d="M686.00,576.90 L620.46,576.90 Q612.10,576.90 612.10,585.26 L612.10,612.04 Q612.10,620.40 620.46,620.40 L686.00,620.40" stroke-width="15.2"/>
<path d="M612.10,598.65 L683.55,598.65" stroke-width="15.2"/>
<path d="M780.00,576.90 L710.96,576.90 Q702.60,576.90 702.60,585.26 L702.60,590.29 Q702.60,598.65 710.96,598.65 L768.04,598.65 Q776.40,598.65 776.40,607.01 L776.40,612.04 Q776.40,620.40 768.04,620.40 L699.00,620.40" stroke-width="15.2"/>
<path d="M878.59,576.90 L809.46,576.90 Q801.10,576.90 801.10,585.26 L801.10,590.29 Q801.10,598.65 809.46,598.65 L866.64,598.65 Q875.00,598.65 875.00,607.01 L875.00,612.04 Q875.00,620.40 866.64,620.40 L797.51,620.40" stroke-width="15.2"/>
<path d="M38.82,667.85 L18.32,667.85 Q15.95,667.85 15.95,670.22 L15.95,672.74 Q15.95,675.10 18.32,675.10 L35.48,675.10 Q37.85,675.10 37.85,677.47 L37.85,679.99 Q37.85,682.35 35.48,682.35 L14.98,682.35" stroke-width="4.3"/>
<path d="M66.60,667.85 L46.52,667.85 Q44.15,667.85 44.15,670.22 L44.15,679.99 Q44.15,682.35 46.52,682.35 L66.60,682.35" stroke-width="4.3"/>
<path d="M73.80,665.70 L73.80,684.50" stroke-width="4.3"/>
<path d="M104.00,667.85 L85.52,667.85 Q83.15,667.85 83.15,670.22 L83.15,679.99 Q83.15,682.35 85.52,682.35 L104.00,682.35" stroke-width="4.3"/>
<path d="M83.15,675.10 L103.31,675.10" stroke-width="4.3"/>
<path d="M110.95,684.50 L110.95,667.85 L133.25,682.35 L133.25,665.70" stroke-width="4.3"/>
<path d="M163.00,667.85 L143.22,667.85 Q140.85,667.85 140.85,670.22 L140.85,679.99 Q140.85,682.35 143.22,682.35 L163.00,682.35" stroke-width="4.3"/>
<path d="M190.50,667.85 L172.12,667.85 Q169.75,667.85 169.75,670.22 L169.75,679.99 Q169.75,682.35 172.12,682.35 L190.50,682.35" stroke-width="4.3"/>
<path d="M169.75,675.10 L189.81,675.10" stroke-width="4.3"/>
<path d="M205.50,684.50 L231.35,667.85 L231.35,684.50" stroke-width="4.3"/>
<path d="M218.10,678.48 L231.35,678.48" stroke-width="4.3"/>
<path d="M241.65,684.50 L241.65,667.85 L255.85,682.35 L255.85,665.70" stroke-width="4.3"/>
<path d="M261.65,667.85 Q261.65,667.85 261.65,667.85 L280.49,667.85 Q282.85,667.85 282.85,670.22 L282.85,679.99 Q282.85,682.35 280.49,682.35 L261.65,682.35 Q261.65,682.35 261.65,682.35 Z" stroke-width="4.3"/>
<path d="M301.70,667.85 L325.80,667.85" stroke-width="4.3"/>
<path d="M313.75,667.85 L313.75,684.50" stroke-width="4.3"/>
<path d="M354.00,667.85 L334.51,667.85 Q332.15,667.85 332.15,670.22 L332.15,679.99 Q332.15,682.35 334.51,682.35 L354.00,682.35" stroke-width="4.3"/>
<path d="M332.15,675.10 L353.28,675.10" stroke-width="4.3"/>
<path d="M381.60,667.85 L361.91,667.85 Q359.55,667.85 359.55,670.22 L359.55,679.99 Q359.55,682.35 361.91,682.35 L381.60,682.35" stroke-width="4.3"/>
<path d="M390.15,665.70 L390.15,684.50" stroke-width="4.3"/>
<path d="M409.35,665.70 L409.35,684.50" stroke-width="4.3"/>
<path d="M390.15,675.10 L409.35,675.10" stroke-width="4.3"/>
<path d="M417.15,684.50 L417.15,667.85 L435.85,682.35 L435.85,665.70" stroke-width="4.3"/>
<path d="M444.15,670.22 Q444.15,667.85 446.51,667.85 L463.49,667.85 Q465.85,667.85 465.85,670.22 L465.85,679.99 Q465.85,682.35 463.49,682.35 L446.51,682.35 Q444.15,682.35 444.15,679.99 Z" stroke-width="4.3"/>
<path d="M472.15,665.70 L472.15,679.99 Q472.15,682.35 474.51,682.35 L489.00,682.35" stroke-width="4.3"/>
<path d="M494.15,670.22 Q494.15,667.85 496.51,667.85 L516.99,667.85 Q519.35,667.85 519.35,670.22 L519.35,679.99 Q519.35,682.35 516.99,682.35 L496.51,682.35 Q494.15,682.35 494.15,679.99 Z" stroke-width="4.3"/>
<path d="M552.50,667.85 L527.51,667.85 Q525.15,667.85 525.15,670.22 L525.15,679.99 Q525.15,682.35 527.51,682.35 L547.99,682.35 Q550.35,682.35 550.35,679.99 L550.35,675.10 L537.75,675.10" stroke-width="4.3"/>
<path d="M554.00,667.85 L565.75,675.10 L577.50,667.85" stroke-width="4.3"/>
<path d="M565.75,675.10 L565.75,684.50" stroke-width="4.3"/>
<path d="M594.15,684.50 L594.15,667.85 L609.88,667.85 Q612.25,667.85 612.25,670.22 L612.25,672.74 Q612.25,675.10 609.88,675.10 L594.15,675.10" stroke-width="4.3"/>
<path d="M620.95,665.70 L620.95,679.99 Q620.95,682.35 623.31,682.35 L637.49,682.35 Q639.85,682.35 639.85,679.99 L639.85,665.70" stroke-width="4.3"/>
<path d="M648.65,667.85 Q648.65,667.85 648.65,667.85 L666.49,667.85 Q668.85,667.85 668.85,670.22 L668.85,679.99 Q668.85,682.35 666.49,682.35 L648.65,682.35 Q648.65,682.35 648.65,682.35 Z" stroke-width="4.3"/>
<path d="M648.65,675.10 L668.85,675.10" stroke-width="4.3"/>
<path d="M677.55,665.70 L677.55,679.99 Q677.55,682.35 679.91,682.35 L695.40,682.35" stroke-width="4.3"/>
<path d="M701.50,665.70 L701.50,684.50" stroke-width="4.3"/>
<path d="M729.90,667.85 L713.22,667.85 Q710.85,667.85 710.85,670.22 L710.85,679.99 Q710.85,682.35 713.22,682.35 L729.90,682.35" stroke-width="4.3"/>
<path d="M732.00,684.50 L757.65,667.85 L757.65,684.50" stroke-width="4.3"/>
<path d="M744.51,678.48 L757.65,678.48" stroke-width="4.3"/>
<path d="M756.50,667.85 L782.00,667.85" stroke-width="4.3"/>
<path d="M769.25,667.85 L769.25,684.50" stroke-width="4.3"/>
<path d="M788.15,665.70 L788.15,684.50" stroke-width="4.3"/>
<path d="M797.45,670.22 Q797.45,667.85 799.81,667.85 L819.68,667.85 Q822.05,667.85 822.05,670.22 L822.05,679.99 Q822.05,682.35 819.68,682.35 L799.81,682.35 Q797.45,682.35 797.45,679.99 Z" stroke-width="4.3"/>
<path d="M830.75,684.50 L830.75,667.85 L852.05,682.35 L852.05,665.70" stroke-width="4.3"/>
<path d="M882.86,667.85 L863.12,667.85 Q860.75,667.85 860.75,670.22 L860.75,672.74 Q860.75,675.10 863.12,675.10 L879.49,675.10 Q881.85,675.10 881.85,677.47 L881.85,679.99 Q881.85,682.35 879.49,682.35 L859.74,682.35" stroke-width="4.3"/>
</g></g>
</svg></body></html>
